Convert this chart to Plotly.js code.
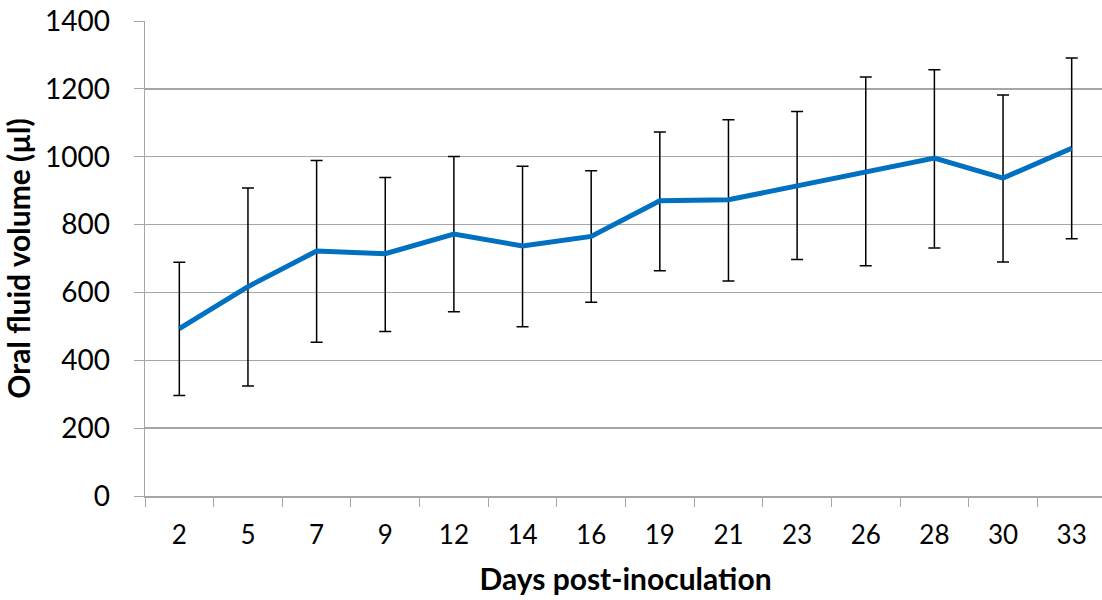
<!DOCTYPE html>
<html>
<head>
<meta charset="utf-8">
<script src="https://cdn.plot.ly/plotly-3.0.1.min.js"></script>
<style>
  html, body { margin: 0; padding: 0; overflow: hidden; background: #fff; }
  #chart { width: 1106px; height: 600px; }
</style>
</head>
<body>
<div id="chart"></div>
<script>
const days = ['2', '5', '7', '9', '12', '14', '16', '19', '21', '23', '26', '28', '30', '33'];
const meanVolume = [493, 617, 722, 714, 772, 737, 765, 870, 873, 914, 956, 996, 937, 1025];
const upperBound = [689, 908, 989, 939, 1001, 972, 959, 1073, 1109, 1133, 1235, 1256, 1182, 1291];
const lowerBound = [296, 324, 453, 485, 543, 499, 571, 664, 634, 697, 679, 731, 690, 758];
const yTicks = [0, 200, 400, 600, 800, 1000, 1200, 1400];

const errPlus = upperBound.map((u, i) => u - meanVolume[i]);
const errMinus = lowerBound.map((l, i) => meanVolume[i] - l);

const FONT = 'Lato, "Open Sans", sans-serif';
const GRID = '#a6a6a6';

const trace = {
  type: 'scatter',
  mode: 'lines',
  x: days,
  y: meanVolume,
  line: { color: '#0070C0', width: 5 },
  error_y: {
    type: 'data',
    symmetric: false,
    array: errPlus,
    arrayminus: errMinus,
    color: '#000000',
    thickness: 1.5,
    width: 6
  },
  hoverinfo: 'x+y'
};

const layout = {
  width: 1106,
  height: 600,
  margin: { l: 145, r: 0, t: 21, b: 104 },
  paper_bgcolor: '#ffffff',
  plot_bgcolor: '#ffffff',
  showlegend: false,
  font: { family: FONT, color: '#000000' },
  xaxis: {
    type: 'category',
    range: [-0.5, 13.5],
    showgrid: false,
    zeroline: false,
    showline: true,
    linecolor: GRID,
    linewidth: 1.5,
    ticks: 'outside',
    tickson: 'boundaries',
    ticklen: 9,
    tickcolor: GRID,
    tickfont: { family: FONT, size: 26, color: '#000' },
    ticklabelstandoff: 15,
    title: { text: 'Days post-inoculation', font: { family: FONT, size: 30, color: '#000', weight: 'bold' }, standoff: 20 }
  },
  yaxis: {
    range: [0, 1400],
    tickvals: yTicks,
    ticktext: yTicks.map(String),
    showgrid: true,
    gridcolor: GRID,
    gridwidth: 1.5,
    zeroline: false,
    showline: true,
    linecolor: GRID,
    linewidth: 1.5,
    ticks: 'outside',
    ticklen: 10,
    tickcolor: GRID,
    tickfont: { family: FONT, size: 28, color: '#000' },
    ticklabelstandoff: 18,
    title: { text: 'Oral fluid volume (µl)', font: { family: FONT, size: 30, color: '#000', weight: 'bold' }, standoff: 8 }
  }
};

Plotly.newPlot('chart', [trace], layout, { displayModeBar: false, staticPlot: true });
</script>
</body>
</html>
